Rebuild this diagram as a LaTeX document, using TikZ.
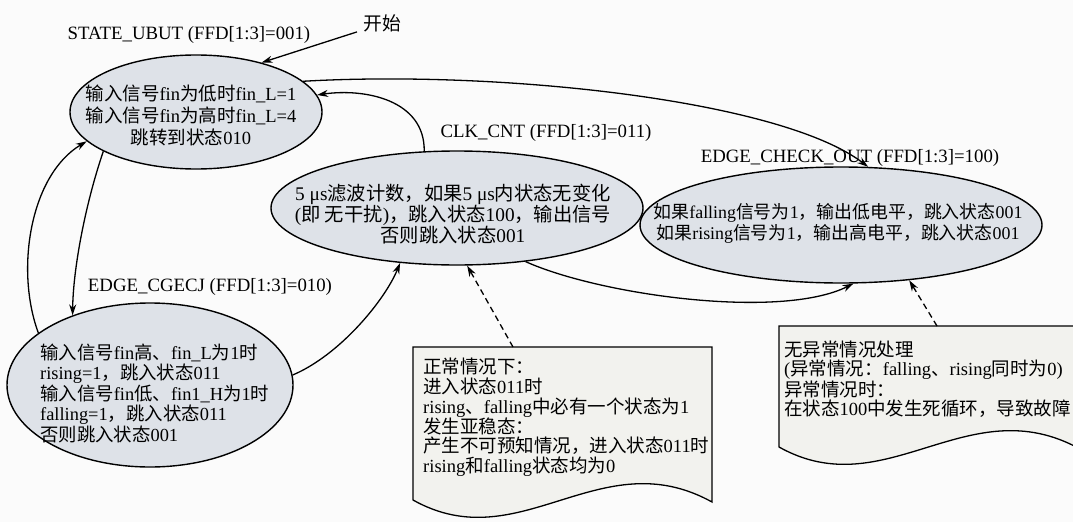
\documentclass[tikz,border=0pt]{standalone}
\usepackage{fontspec}
\setmainfont{Liberation Serif}
\newfontfamily\cjk{Noto Sans CJK SC}
\usetikzlibrary{arrows.meta,shapes.geometric}
\newcommand\zh[1]{{\cjk #1}}
\definecolor{bgc}{RGB}{251,251,251}
\definecolor{ellfill}{RGB}{222,226,232}
\definecolor{notefill}{RGB}{242,242,238}
\tikzset{
  stateell/.style={ellipse, draw=black, line width=1.4pt, fill=ellfill, inner sep=0pt},
  txt/.style 2 args={font=\fontsize{#1}{#2}\selectfont, inner sep=0pt},
  lbl/.style={font=\fontsize{18.8}{20}\selectfont, inner sep=0pt},
  conn/.style={line width=1.3pt, -{Stealth[length=11pt,width=7pt]}},
  dconn/.style={conn, dash pattern=on 6pt off 4pt},
  noteshape/.style={draw=black, line width=1.3pt, fill=notefill},
  notearea/.style={inner sep=0pt, anchor=north west}
}
\begin{document}
\begin{tikzpicture}[x=1pt,y=-1pt]
\path[use as bounding box] (0,0) rectangle (1073,522);
\clip (0,0) rectangle (1073,522);
\fill[bgc] (0,0) rectangle (1073,522);

% states
\node[stateell, minimum width=252pt, minimum height=114pt] (e1) at (196,112) {};
\node[stateell, minimum width=372pt, minimum height=114pt] (e2) at (457,208) {};
\node[stateell, minimum width=402pt, minimum height=116pt] (e3) at (841,225) {};
\node[stateell, minimum width=286pt, minimum height=164pt] (e4) at (150,385) {};

\node[txt={18.5}{22}, align=center] (t1) at (191,115)
  {\zh{输入信号}fin\zh{为低时}fin\_L=1\\ \zh{输入信号}fin\zh{为高时}fin\_L=4\\ \zh{跳转到状态}010};
\node[txt={19.3}{21}, align=center] (t2) at (453,214)
  {5 μs\zh{滤波计数，如果}5 μs\zh{内状态无变化}\\ (\zh{即 无干扰})\zh{，跳入状态}100\zh{，输出信号}\\ \zh{否则跳入状态}001};
\node[txt={17.9}{21}, align=center] (t3) at (838,223)
  {\zh{如果}falling\zh{信号为}1\zh{，输出低电平，跳入状态}001\\ \zh{如果}rising\zh{信号为}1\zh{，输出高电平，跳入状态}001};
\node[txt={18.4}{20.5}, align=left, anchor=west] (t4) at (40,393)
  {\zh{输入信号}fin\zh{高、}fin\_L\zh{为}1\zh{时}\\ rising=1\zh{，跳入状态}011\\ \zh{输入信号}fin\zh{低、}fin1\_H\zh{为}1\zh{时}\\ falling=1\zh{，跳入状态}011\\ \zh{否则跳入状态}001};

% labels
\node[lbl] (l1) at (189,35) {STATE\_UBUT (FFD[1:3]=001)};
\node[lbl] (l2) at (546,133) {CLK\_CNT (FFD[1:3]=011)};
\node[lbl] (l3) at (850,158) {EDGE\_CHECK\_OUT (FFD[1:3]=100)};
\node[lbl] (l4) at (210,287) {EDGE\_CGECJ (FFD[1:3]=010)};
\node[lbl] (start) at (382,23) {\zh{开始}};

% notes
\node[notearea, minimum width=299pt, minimum height=153pt] (n1) at (413,347) {};
\draw[noteshape] (413,347) -- (712,347) -- (712,502)
  .. controls (600,440) and (520,560) .. (413,500) -- cycle;
\node[notearea, minimum width=301pt, minimum height=121pt] (n2) at (779,326) {};
\draw[noteshape] (779,326) -- (1080,326) -- (1080,449)
  .. controls (968,387) and (886,507) .. (779,447) -- cycle;
\coordinate (n1top) at (513,347);
\coordinate (n2top) at (937,326);

\node[txt={18.5}{19.8}, align=left, anchor=west] (t5) at (423,417.5)
  {\zh{正常情况下：}\\ \zh{进入状态}011\zh{时}\\ rising\zh{、}falling\zh{中必有一个状态为}1\\ \zh{发生亚稳态：}\\ \zh{产生不可预知情况，进入状态}011\zh{时}\\ rising\zh{和}falling\zh{状态均为}0};
\node[txt={18.5}{19.3}, align=left, anchor=west] (t6) at (784,379)
  {\zh{无异常情况处理}\\ (\zh{异常情况：}falling\zh{、}rising\zh{同时为}0)\\ \zh{异常情况时：}\\ \zh{在状态}100\zh{中发生死循环，导致故障}};

% connectors
\draw[conn] ([xshift=-6pt]start.south west) -- (e1.37);
\draw[conn] (e1.203) .. controls (85,205) and (73,270) .. (e4.138);
\draw[conn] (e4.155) .. controls (15,270) and (30,175) .. (e1.195);
\draw[conn] (e4.4) .. controls (340,355) and (385,300) .. (e2.224);
\draw[conn] (e2.120) .. controls (425,100) and (365,88) .. (e1.8);
\draw[conn] (e1.16) .. controls (500,70) and (780,100) .. (e3.65);
\draw[conn] (e2.322) .. controls (600,295) and (780,320) .. (e3.282);
\draw[dconn] (n1top) -- (e2.280);
\draw[dconn] (n2top) -- (e3.321);
\end{tikzpicture}
\end{document}
